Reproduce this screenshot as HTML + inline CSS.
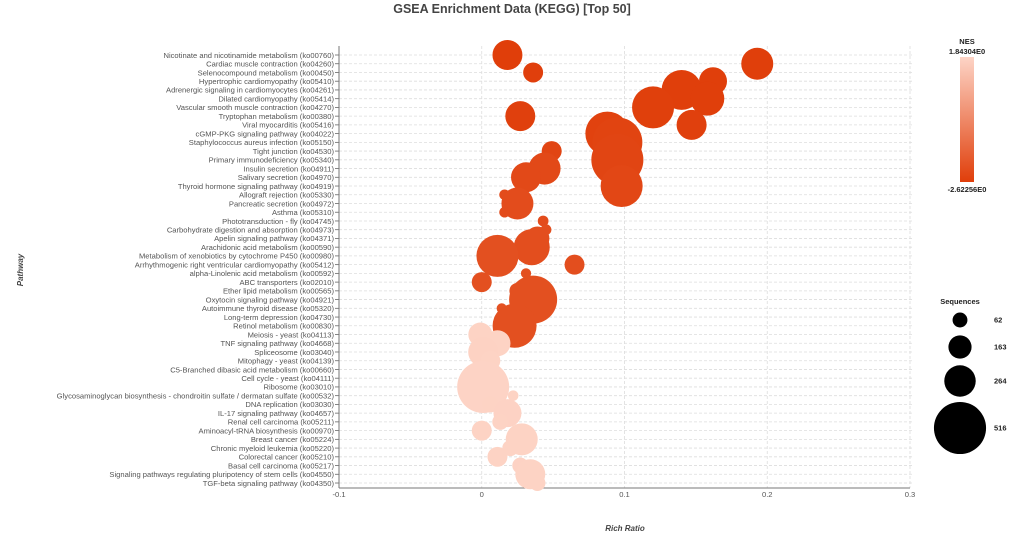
<!DOCTYPE html>
<html><head><meta charset="utf-8"><style>
body{margin:0;background:#fff;width:1024px;height:542px;overflow:hidden;font-family:"Liberation Sans",sans-serif}
svg{display:block}
</style></head><body>
<svg id="chart" width="1024" height="542" viewBox="0 0 1024 542" xmlns="http://www.w3.org/2000/svg">
<text x="512" y="13" text-anchor="middle" font-size="12.5" font-weight="bold" fill="#444">GSEA Enrichment Data (KEGG) [Top 50]</text>
<text transform="translate(23,270) rotate(-90)" text-anchor="middle" font-size="8" font-style="italic" font-weight="bold" fill="#444">Pathway</text>
<text x="625" y="531" text-anchor="middle" font-size="8" font-style="italic" font-weight="bold" fill="#444">Rich Ratio</text>
<g id="grid"></g><g id="ylabels"></g><g id="xaxis"></g><g id="points"></g>
<g id="legend">
<text x="967" y="44" text-anchor="middle" font-size="7.5" font-weight="bold" fill="#222">NES</text>
<text x="967" y="50" dy="4" text-anchor="middle" font-size="7.5" font-weight="bold" fill="#222">1.84304E0</text>
<defs><linearGradient id="nesg" x1="0" y1="0" x2="0" y2="1"><stop offset="0" stop-color="#fdd4c6"/><stop offset="1" stop-color="#e03e0a"/></linearGradient></defs>
<rect x="960" y="57" width="14" height="125" fill="url(#nesg)"/>
<text x="967" y="192" text-anchor="middle" font-size="7.5" font-weight="bold" fill="#222">-2.62256E0</text>
<text x="960" y="304" text-anchor="middle" font-size="7.5" font-weight="bold" fill="#222">Sequences</text>
</g>
</svg>
<script>
const pathways=["Nicotinate and nicotinamide metabolism (ko00760)","Cardiac muscle contraction (ko04260)","Selenocompound metabolism (ko00450)","Hypertrophic cardiomyopathy (ko05410)","Adrenergic signaling in cardiomyocytes (ko04261)","Dilated cardiomyopathy (ko05414)","Vascular smooth muscle contraction (ko04270)","Tryptophan metabolism (ko00380)","Viral myocarditis (ko05416)","cGMP-PKG signaling pathway (ko04022)","Staphylococcus aureus infection (ko05150)","Tight junction (ko04530)","Primary immunodeficiency (ko05340)","Insulin secretion (ko04911)","Salivary secretion (ko04970)","Thyroid hormone signaling pathway (ko04919)","Allograft rejection (ko05330)","Pancreatic secretion (ko04972)","Asthma (ko05310)","Phototransduction - fly (ko04745)","Carbohydrate digestion and absorption (ko04973)","Apelin signaling pathway (ko04371)","Arachidonic acid metabolism (ko00590)","Metabolism of xenobiotics by cytochrome P450 (ko00980)","Arrhythmogenic right ventricular cardiomyopathy (ko05412)","alpha-Linolenic acid metabolism (ko00592)","ABC transporters (ko02010)","Ether lipid metabolism (ko00565)","Oxytocin signaling pathway (ko04921)","Autoimmune thyroid disease (ko05320)","Long-term depression (ko04730)","Retinol metabolism (ko00830)","Meiosis - yeast (ko04113)","TNF signaling pathway (ko04668)","Spliceosome (ko03040)","Mitophagy - yeast (ko04139)","C5-Branched dibasic acid metabolism (ko00660)","Cell cycle - yeast (ko04111)","Ribosome (ko03010)","Glycosaminoglycan biosynthesis - chondroitin sulfate / dermatan sulfate (ko00532)","DNA replication (ko03030)","IL-17 signaling pathway (ko04657)","Renal cell carcinoma (ko05211)","Aminoacyl-tRNA biosynthesis (ko00970)","Breast cancer (ko05224)","Chronic myeloid leukemia (ko05220)","Colorectal cancer (ko05210)","Basal cell carcinoma (ko05217)","Signaling pathways regulating pluripotency of stem cells (ko04550)","TGF-beta signaling pathway (ko04350)"];
const richRatio=[0.018,0.193,0.036,0.162,0.140,0.158,0.120,0.027,0.147,0.088,0.095,0.049,0.095,0.044,0.031,0.098,0.016,0.025,0.016,0.043,0.045,0.039,0.035,0.011,0.065,0.031,0.000,0.025,0.036,0.014,0.020,0.023,-0.001,0.011,0.001,0.006,0.002,-0.001,0.001,0.022,0.006,0.018,0.013,0.000,0.028,0.020,0.011,0.027,0.034,0.039];
const sequences=[246,271,124,222,368,295,393,246,246,417,490,124,515,271,246,393,10,271,10,12,12,173,320,393,124,5,124,76,466,5,27,417,173,198,246,124,76,124,515,10,76,222,76,124,271,76,124,76,246,76];
const nes=[-2.62,-2.6,-2.58,-2.6,-2.59,-2.6,-2.57,-2.55,-2.56,-2.5,-2.45,-2.4,-2.4,-2.3,-2.3,-2.35,-2.2,-2.2,-2.2,-2.2,-2.15,-2.15,-2.15,-2.1,-2.15,-2.1,-2.1,-2.05,-2.1,-2.05,-2.05,-2.1,1.8,1.8,1.78,1.8,1.79,1.8,1.82,1.8,1.8,1.79,1.8,1.8,1.8,1.8,1.8,1.79,1.8,1.8];
const xTicks=[-0.1,0,0.1,0.2,0.3];
const xTickLabels=["-0.1","0","0.1","0.2","0.3"];
const legendSizes=[62,163,264,516];
const NS="http://www.w3.org/2000/svg";
const X0=339,X1=910,XMIN=-0.1,XMAX=0.3;
function xs(v){return X0+(v-XMIN)/(XMAX-XMIN)*(X1-X0);}
function ys(i){return 55+i*8.735;}
function rs(n){return 4.9+0.041*n;}
function hex(c){return [parseInt(c.substr(1,2),16),parseInt(c.substr(3,2),16),parseInt(c.substr(5,2),16)];}
const cLo=hex("#e03e0a"),cHi=hex("#fdd4c6");
function col(v){let t=(v-(-2.62256))/(1.84304+2.62256);t=Math.max(0,Math.min(1,t));return "rgb("+cLo.map((a,k)=>Math.round(a+(cHi[k]-a)*t)).join(",")+")";}
function mk(tag,at,parent){const e=document.createElementNS(NS,tag);for(const k in at)e.setAttribute(k,at[k]);parent.appendChild(e);return e;}
const grid=document.getElementById("grid"),yl=document.getElementById("ylabels"),xa=document.getElementById("xaxis"),pts=document.getElementById("points"),lg=document.getElementById("legend");
pathways.forEach((p,i)=>{
 const y=ys(i);
 const g=mk("line",{x1:X0,x2:X1+2,y1:y,y2:y,stroke:"#ddd","stroke-width":0.8,"stroke-dasharray":"3,2"},grid);
 
 
 const tk=mk("line",{x1:X0-4,x2:X0,y1:y,y2:y,stroke:"#666","stroke-width":0.8},yl);
 
 
 const t=mk("text",{x:X0-5,y:y+2.8,"text-anchor":"end","font-size":"7.6",fill:"#555"},yl);
 
 
 t.textContent=p;
});
xTicks.forEach((v,k)=>{
 const x=xs(v);
 const g=mk("line",{x1:x,x2:x,y1:46,y2:488,stroke:"#ddd","stroke-width":0.8,"stroke-dasharray":"3,2"},grid);
 
 
 const t=mk("text",{x:x,y:497,"text-anchor":"middle","font-size":"7.6",fill:"#555"},xa);
 
 
 t.textContent=xTickLabels[k];
});
const ax=mk("line",{x1:X0,x2:X1,y1:488,y2:488,stroke:"#777","stroke-width":1},xa);


const ay=mk("line",{x1:X0,x2:X0,y1:46,y2:488,stroke:"#777","stroke-width":1},xa);


pathways.forEach((p,i)=>{
 const c=mk("circle",{cx:xs(richRatio[i]),cy:ys(i),r:rs(sequences[i]),fill:col(nes[i])},pts);
 
 
});
const ly=[320,347,381,428];
legendSizes.forEach((n,k)=>{
 const c=mk("circle",{cx:960,cy:ly[k],r:rs(n),fill:"#000"},lg);
 
 
 const t=mk("text",{x:994,y:ly[k]+2.5,"font-size":"7.5","font-weight":"bold",fill:"#222"},lg);
 
 
 t.textContent=n;
});
</script>
</body></html>
